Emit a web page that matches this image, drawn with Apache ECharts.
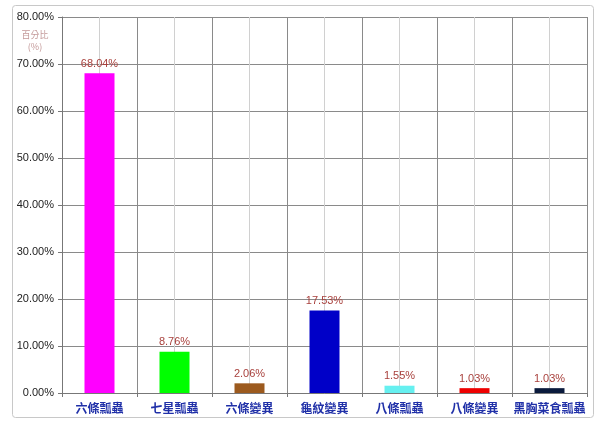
<!DOCTYPE html>
<html>
<head>
<meta charset="utf-8">
<script src="https://cdn.jsdelivr.net/npm/echarts@6/dist/echarts.min.js"></script>
<style>
html,body{margin:0;padding:0;background:#fff;}
#chart{width:597px;height:423px;}
</style>
</head>
<body>
<div id="chart"></div>
<script>
// Species categories and their share of the total
const categories = ['六條瓢蟲', '七星瓢蟲', '六條變異', '龜紋變異', '八條瓢蟲', '八條變異', '黑胸菜食瓢蟲'];
const percentages = [68.04, 8.76, 2.06, 17.53, 1.55, 1.03, 1.03];
const barColors = ['#ff00ff', '#00ff00', '#9c5a1e', '#0000c8', '#66f0f0', '#ee0000', '#0a1a3c'];
const yTicks = [0, 10, 20, 30, 40, 50, 60, 70, 80];

const chart = echarts.init(document.getElementById('chart'));

chart.setOption({
  animation: false,
  backgroundColor: '#fff',
  graphic: [
    {
      type: 'rect',
      shape: { x: 12.5, y: 5.5, width: 581, height: 412, r: 3 },
      style: { fill: 'none', stroke: '#c8c8c8', lineWidth: 1 }
    },
    {
      type: 'text',
      x: 35, y: 29,
      style: {
        text: '百分比\n(%)',
        fill: '#c49a9a',
        font: '9px "Noto Sans CJK TC"',
        align: 'center',
        verticalAlign: 'top',
        lineHeight: 12
      }
    }
  ],
  grid: { left: 62, right: 10, top: 17, bottom: 30, containLabel: false },
  xAxis: [
    {
      type: 'category',
      data: categories,
      axisLine: { lineStyle: { color: '#777' } },
      axisTick: { show: true, length: 4, lineStyle: { color: '#777' } },
      splitLine: { show: false },
      axisLabel: {
        interval: 0,
        color: '#2030a8',
        fontWeight: 'bold',
        fontSize: 12,
        margin: 9,
        fontFamily: '"Noto Sans CJK TC"'
      }
    },
    {
      // helper axis for the vertical grid: category borders dark, centres light
      type: 'value',
      min: 0, max: 7, interval: 0.5,
      show: true,
      position: 'bottom',
      axisLine: { show: false },
      axisTick: { show: false },
      axisLabel: { show: false },
      splitLine: { show: true, lineStyle: { color: ['#8a8a8a', '#d0d0d0'], width: 1 } }
    }
  ],
  yAxis: {
    type: 'value',
    min: yTicks[0], max: yTicks[yTicks.length - 1], interval: 10,
    axisLine: { show: true, lineStyle: { color: '#777' } },
    axisTick: { show: true, length: 4, lineStyle: { color: '#777' } },
    splitLine: { show: true, lineStyle: { color: '#8a8a8a' } },
    axisLabel: {
      color: '#222',
      fontSize: 11,
      margin: 8,
      fontFamily: 'Liberation Sans',
      formatter: v => v.toFixed(2) + '%'
    }
  },
  series: [{
    type: 'bar',
    xAxisIndex: 0,
    data: percentages.map((v, i) => ({ value: v, itemStyle: { color: barColors[i] } })),
    barWidth: '40%',
    label: {
      show: true,
      position: 'top',
      distance: 4,
      color: '#a8403c',
      fontSize: 11,
      fontFamily: 'Liberation Sans',
      formatter: p => p.value.toFixed(2) + '%'
    }
  }]
});
</script>
</body>
</html>
